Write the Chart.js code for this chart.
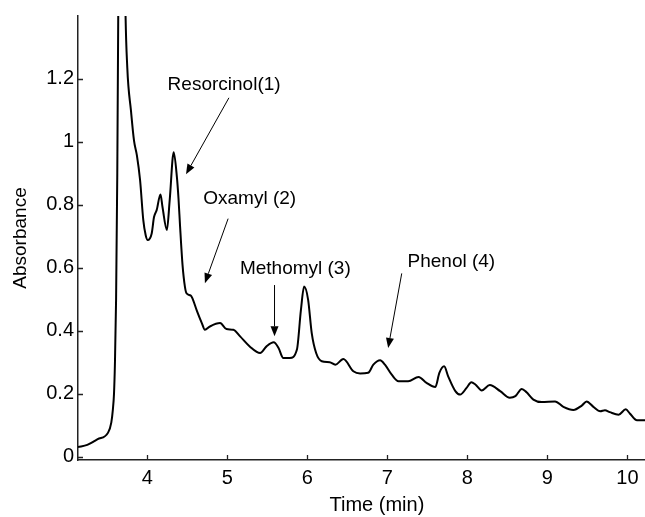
<!DOCTYPE html>
<html>
<head>
<meta charset="utf-8">
<script src="https://cdn.jsdelivr.net/npm/chart.js@4.4.0/dist/chart.umd.min.js"></script>
<style>
	body { margin: 0; background: #fff; overflow: hidden; }
</style>
</head>
<body>
<canvas id="line-chartcanvas" width="645" height="517"></canvas>
<script>

// chromatogram trace
var timeMin = [3.134, 3.25, 3.38, 3.51, 3.55, 3.57, 3.584, 3.595, 3.61, 3.625, 3.638, 3.68, 3.725, 3.75, 3.796, 3.834, 3.87, 3.91, 3.95, 3.98,
	4.005, 4.055, 4.084, 4.117, 4.165, 4.19, 4.245, 4.28, 4.33, 4.37, 4.39, 4.41, 4.44, 4.47, 4.49, 4.54, 4.56, 4.62, 4.68, 4.72, 4.78, 4.91, 4.99,
	5.075, 5.16, 5.28, 5.41, 5.49, 5.58, 5.64, 5.70, 5.78, 5.87, 5.92, 5.96, 6.01, 6.055, 6.11, 6.18, 6.28, 6.35, 6.45, 6.575, 6.66, 6.76, 6.825, 6.91, 6.97,
	7.055, 7.14, 7.26, 7.39, 7.49, 7.6, 7.65, 7.71, 7.76, 7.85, 7.91, 7.99, 8.05, 8.10, 8.18, 8.28, 8.41, 8.53, 8.6, 8.68, 8.74, 8.825, 8.93,
	9.096, 9.2, 9.325, 9.43, 9.49, 9.575, 9.66, 9.72, 9.78, 9.89, 9.98, 10.03, 10.12, 10.22];
var absorbance = [0.030, 0.037, 0.055, 0.076, 0.108, 0.15, 0.20, 0.29, 0.50, 0.90, 1.45, 2.6, 1.45, 1.236, 1.099, 1.004, 0.957, 0.878, 0.751, 0.703,
	0.688, 0.709, 0.761, 0.783, 0.833, 0.793, 0.72, 0.815, 0.967, 0.888, 0.82, 0.73, 0.61, 0.54, 0.519, 0.512, 0.505, 0.463, 0.425, 0.403, 0.413, 0.424, 0.405,
	0.403, 0.382, 0.35, 0.329, 0.35, 0.363, 0.345, 0.313, 0.313, 0.34, 0.466, 0.54, 0.498, 0.392, 0.329, 0.303, 0.300, 0.292, 0.31, 0.271, 0.264, 0.266, 0.292, 0.306, 0.292,
	0.26, 0.239, 0.239, 0.253, 0.234, 0.221, 0.266, 0.287, 0.255, 0.208, 0.197, 0.218, 0.236, 0.229, 0.21, 0.227, 0.208, 0.187, 0.192, 0.215, 0.204, 0.181, 0.173,
	0.175, 0.158, 0.148, 0.162, 0.175, 0.158, 0.144, 0.147, 0.141, 0.133, 0.15, 0.137, 0.115, 0.115];

var xTicks = [4, 5, 6, 7, 8, 9, 10];
var yTicks = [0, 0.2, 0.4, 0.6, 0.8, 1, 1.2];

// peak labels and their arrows (data coordinates)
var peakNames = ["Resorcinol(1)", "Oxamyl (2)", "Methomyl (3)", "Phenol (4)"];
var labelX = [4.96, 5.28, 5.85, 7.80];
var labelY = [1.182, 0.82, 0.598, 0.619];
var arrowFromX = [5.02, 5.01, 5.59, 7.18];
var arrowFromY = [1.14, 0.756, 0.545, 0.582];
var arrowToX = [4.484, 4.72, 5.59, 7.01];
var arrowToY = [0.897, 0.551, 0.382, 0.345];

var FONT = "'Liberation Sans', Arial, sans-serif";

var points = timeMin.map(function(t, i) { return {x : t, y : absorbance[i]}; });

var extras = {
	id : "extras",
	afterDraw : function(chart) {
		var c = chart.ctx, xs = chart.scales.x, ys = chart.scales.y, area = chart.chartArea;
		c.save();

		// inward tick marks
		c.strokeStyle = "#222";
		c.lineWidth = 1.3;
		c.beginPath();
		xs.ticks.forEach(function(t) {
			var px = Math.round(xs.getPixelForValue(t.value)) + 0.5;
			c.moveTo(px, area.bottom);
			c.lineTo(px, area.bottom - 5);
		});
		ys.ticks.forEach(function(t) {
			var py = Math.round(ys.getPixelForValue(t.value)) + 0.5;
			c.moveTo(area.left, py);
			c.lineTo(area.left + 5, py);
		});
		c.stroke();

		// labels + arrows
		c.fillStyle = "#000";
		c.strokeStyle = "#000";
		c.lineWidth = 1;
		c.font = "19px " + FONT;
		c.textAlign = "center";
		c.textBaseline = "middle";
		for (var i = 0; i < peakNames.length; i++) {
			c.fillText(peakNames[i], xs.getPixelForValue(labelX[i]), ys.getPixelForValue(labelY[i]));

			var x0 = xs.getPixelForValue(arrowFromX[i]), y0 = ys.getPixelForValue(arrowFromY[i]);
			var x1 = xs.getPixelForValue(arrowToX[i]), y1 = ys.getPixelForValue(arrowToY[i]);
			var a = Math.atan2(y1 - y0, x1 - x0), head = 10, half = 4;
			var bx = x1 - head * Math.cos(a), by = y1 - head * Math.sin(a);
			c.beginPath();
			c.moveTo(x0, y0);
			c.lineTo(bx, by);
			c.stroke();
			c.beginPath();
			c.moveTo(x1, y1);
			c.lineTo(bx + half * Math.sin(a), by - half * Math.cos(a));
			c.lineTo(bx - half * Math.sin(a), by + half * Math.cos(a));
			c.closePath();
			c.fill();
		}

		// x axis title (sits a bit right of centre in the original)
		c.font = "20px " + FONT;
		c.fillText("Time (min)", xs.getPixelForValue(6.87), area.bottom + 45);
		c.restore();
	}
};

var ctx = document.getElementById("line-chartcanvas");

var chart = new Chart(ctx, {
	type : "line",
	data : {
		datasets : [{
			label : "Absorbance",
			data : points,
			borderColor : "#000",
			borderWidth : 2,
			fill : false,
			pointRadius : 0,
			cubicInterpolationMode : "monotone"
		}]
	},
	options : {
		responsive : false,
		animation : false,
		devicePixelRatio : 1,
		layout : { padding : { top : 15, right : 0, bottom : 0, left : 0 } },
		plugins : { legend : { display : false }, tooltip : { enabled : false } },
		scales : {
			x : {
				type : "linear",
				min : 3.134,
				max : 10.22,
				afterFit : function(s) { s.height = 57; },
				afterBuildTicks : function(s) { s.ticks = xTicks.map(function(v) { return {value : v}; }); },
				grid : { display : true, drawOnChartArea : false, drawTicks : false },
				border : { display : true, color : "#222", width : 1.5 },
				ticks : { color : "#000", padding : 6, maxRotation : 0, font : { size : 20, family : FONT } }
			},
			y : {
				min : -0.011,
				max : 1.40,
				afterFit : function(s) { s.width = 78; },
				afterBuildTicks : function(s) { s.ticks = yTicks.map(function(v) { return {value : v}; }); },
				grid : { display : true, drawOnChartArea : false, drawTicks : false },
				border : { display : true, color : "#222", width : 1.5 },
				ticks : {
					color : "#000",
					padding : 4,
					font : { size : 20, family : FONT },
					callback : function(v) { return String(Number(v.toFixed(1))); }
				},
				title : {
					display : true,
					text : "Absorbance",
					color : "#000",
					padding : { top : 9, bottom : 0 },
					font : { size : 19, family : FONT }
				}
			}
		}
	},
	plugins : [extras]
});

</script>
</body>
</html>
